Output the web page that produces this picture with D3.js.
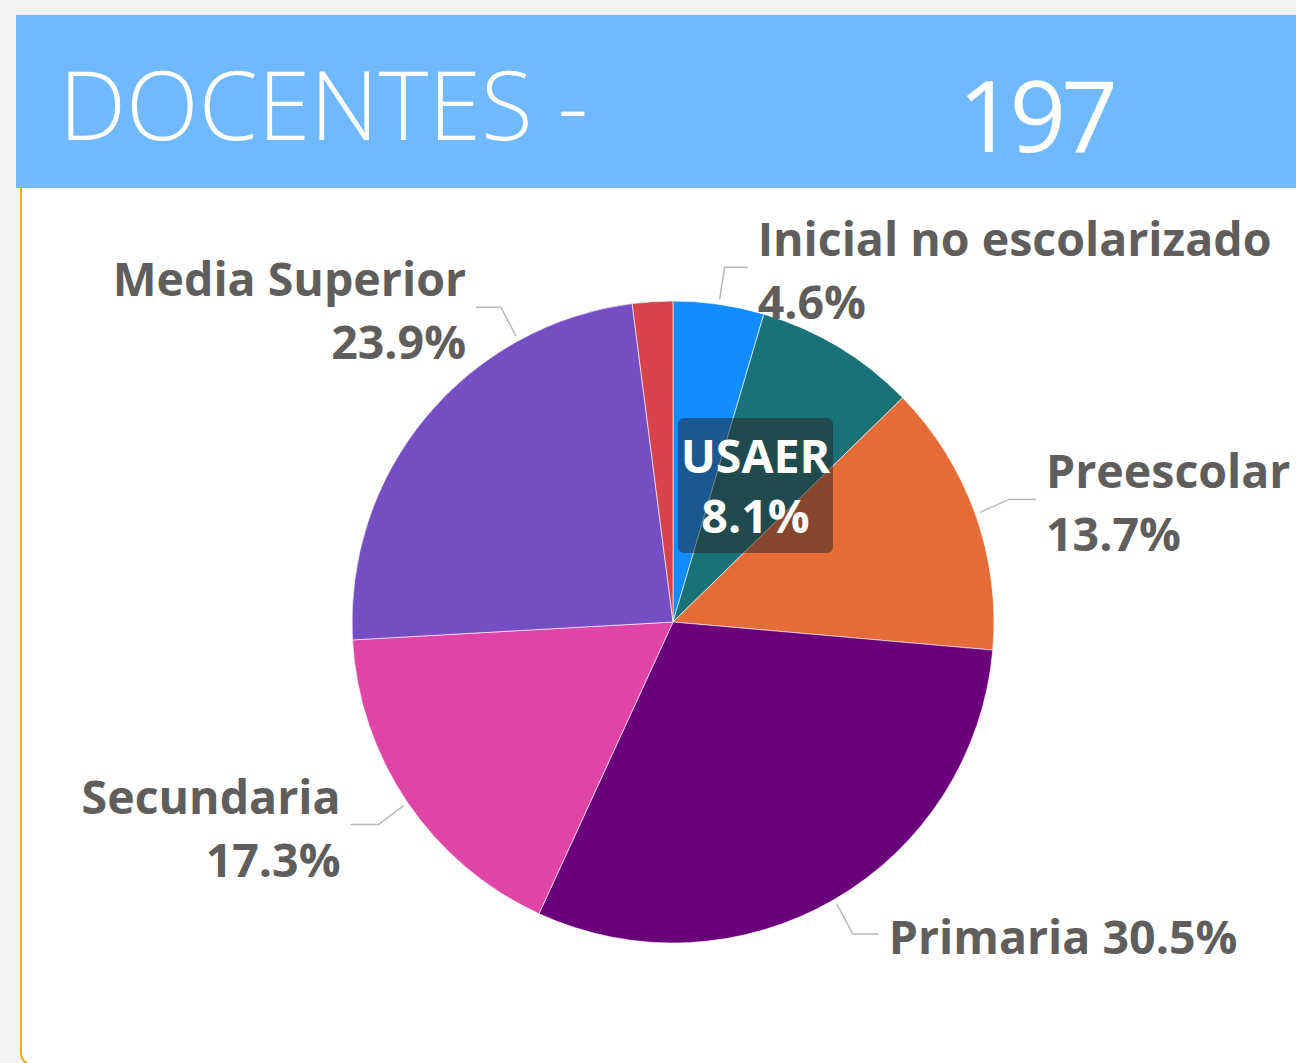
<!DOCTYPE html>
<html>
<head>
<meta charset="utf-8">
<script src="https://cdn.jsdelivr.net/npm/d3@7"></script>
<style>
  body { margin: 0; background: #f3f3f3; }
  svg { display: block; }
  .title { font-family: 'Open Sans', sans-serif; fill: #ffffff; }
  .lbl { font-family: 'Open Sans', sans-serif; font-weight: 700; fill: #605e5c; }
  .leader { fill: none; stroke: #b8b8b8; stroke-width: 1.5px; }
</style>
</head>
<body>
<div id="chart"></div>
<script>
// data
const categories = ['Inicial no escolarizado', 'USAER', 'Preescolar', 'Primaria', 'Secundaria', 'Media Superior', 'CAM'];
const values = [9, 16, 27, 60, 34, 47, 4];
const sliceColors = ['#118dff', '#197278', '#e66c37', '#6b007b', '#e044a7', '#744ec2', '#d9434b'];
const titleText = 'DOCENTES -';

const width = 1296, height = 1063;
const cx = 673, cy = 622, radius = 321;
const total = d3.sum(values);

// label layout: where on the slice the leader starts (0..1), elbow offset, horizontal run
const labelLayout = {
  'Inicial no escolarizado': { at: 0.5, ex: 5, ey: -32, run: 23, lines: 2 },
  'Preescolar': { at: 0.5, ex: 29, ey: -13, run: 27, lines: 2 },
  'Primaria': { at: 0.5, ex: 16, ey: 30, run: 26, lines: 1 },
  'Secundaria': { at: 0.5, ex: -25, ey: 19, run: -28, lines: 2 },
  'Media Superior': { at: 0.75, ex: -15, ey: -29, run: -25, lines: 2 }
};

const svg = d3.select('#chart').append('svg')
  .attr('width', width)
  .attr('height', height);

// background + card
svg.append('rect').attr('width', width).attr('height', height).attr('fill', '#f3f3f3');
svg.append('rect')
  .attr('x', 21).attr('y', 150)
  .attr('width', width + 40).attr('height', 915)
  .attr('rx', 12)
  .attr('fill', '#ffffff')
  .attr('stroke', '#f5a800')
  .attr('stroke-width', 2);

// header
svg.append('rect')
  .attr('x', 16).attr('y', 15)
  .attr('width', width - 16).attr('height', 173)
  .attr('fill', '#70b9fe');
svg.append('text').attr('class', 'title')
  .attr('x', 59).attr('y', 140)
  .style('font-size', '95px').style('font-weight', 300)
  .text(titleText);
svg.append('text').attr('class', 'title')
  .attr('x', 958).attr('y', 152)
  .style('font-size', '99px').style('font-weight', 400)
  .style('letter-spacing', '-5px')
  .text(total);

// pie
const pie = d3.pie().value((d) => d.value).sort(null);
const arcs = pie(categories.map((c, i) => ({ name: c, value: values[i], color: sliceColors[i] })));
const arc = d3.arc().innerRadius(0).outerRadius(radius);

const g = svg.append('g').attr('transform', `translate(${cx},${cy})`);
g.selectAll('path.slice')
  .data(arcs)
  .join('path')
  .attr('class', 'slice')
  .attr('d', arc)
  .attr('fill', (d) => d.data.color)
  .attr('stroke', '#ffffff')
  .attr('stroke-width', 0.6);

const fmt = (d) => d3.format('.1%')(d.data.value / total);
const labelSize = 46.5;

// outside labels with leader lines
arcs.filter((d) => labelLayout[d.data.name]).forEach((d) => {
  const L = labelLayout[d.data.name];
  const a = d.startAngle + (d.endAngle - d.startAngle) * L.at;
  const r0 = radius + 5;
  const p0 = [Math.sin(a) * r0, -Math.cos(a) * r0];
  const p1 = [p0[0] + L.ex, p0[1] + L.ey];
  const p2 = [p1[0] + L.run, p1[1]];
  g.append('path').attr('class', 'leader')
    .attr('d', d3.line()([p0, p1, p2]));

  const right = L.run > 0;
  const tx = p2[0] + (right ? 10 : -10);
  const t = g.append('text').attr('class', 'lbl')
    .attr('text-anchor', right ? 'start' : 'end')
    .style('font-size', labelSize + 'px');
  if (L.lines === 1) {
    t.attr('x', tx).attr('y', p1[1] + 20).text(`${d.data.name} ${fmt(d)}`);
  } else {
    t.append('tspan').attr('x', tx).attr('y', p1[1] - 11).text(d.data.name);
    t.append('tspan').attr('x', tx).attr('y', p1[1] + 52).text(fmt(d));
  }
});

// inside label (USAER) on a dark box
const usaer = arcs.find((d) => d.data.name === 'USAER');
const bx = 5, by = -204, bw = 155, bh = 135;
g.append('rect')
  .attr('x', bx).attr('y', by)
  .attr('width', bw).attr('height', bh)
  .attr('rx', 6)
  .attr('fill', '#252423')
  .attr('fill-opacity', 0.5);
const it = g.append('text').attr('class', 'lbl')
  .attr('text-anchor', 'middle')
  .style('fill', '#ffffff')
  .style('font-size', labelSize + 'px');
it.append('tspan').attr('x', bx + bw / 2).attr('y', by + 55).text(usaer.data.name);
it.append('tspan').attr('x', bx + bw / 2).attr('y', by + 115).text(fmt(usaer));
</script>
</body>
</html>
